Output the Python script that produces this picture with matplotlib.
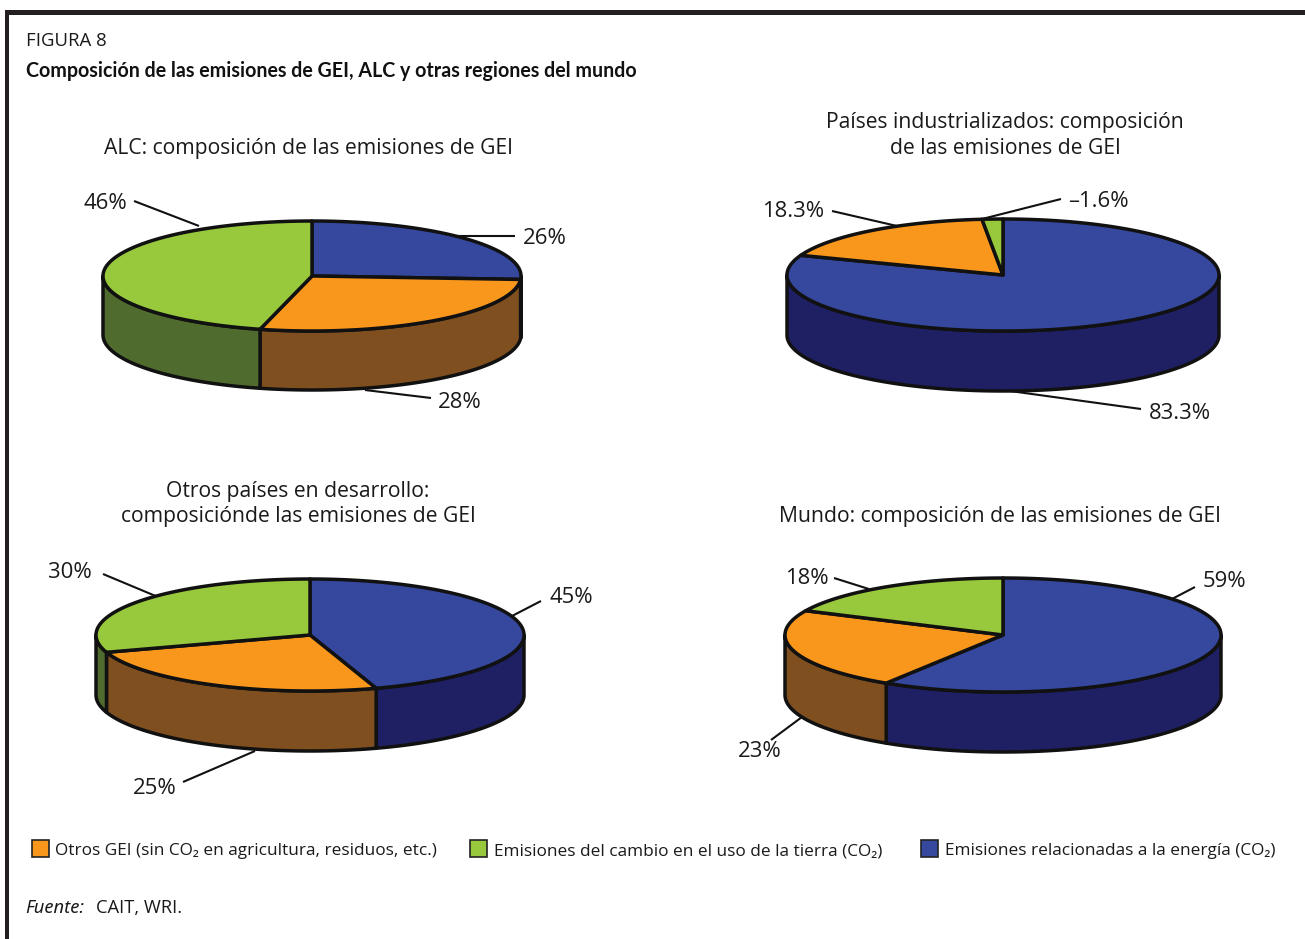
import numpy as np
import matplotlib
matplotlib.use("Agg")
import matplotlib.pyplot as plt
from matplotlib.patches import Polygon, Rectangle

plt.rcParams['font.family'] = ['Open Sans', 'Noto Sans', 'DejaVu Sans']

W, H = 1305, 939
FRAME = '#231f20'
INK = '#111111'

# Data (shares, clockwise from 12 o'clock); the industrialised slice uses the magnitude of -1.6
categories = ['Otros GEI (sin CO₂ en agricultura, residuos, etc.)',
              'Emisiones del cambio en el uso de la tierra (CO₂)',
              'Emisiones relacionadas a la energía (CO₂)']
order_keys = ['energia', 'otros', 'tierra']
alc_values = [26, 28, 46]
ind_values = [83.3, 18.3, 1.6]
dev_values = [45, 25, 30]
mun_values = [59, 23, 18]

top_colors = {'energia': '#36479e', 'otros': '#f9971d', 'tierra': '#98c93c'}
side_colors = {'energia': '#1f1f63', 'otros': '#7f4f1f', 'tierra': '#4f6b2e'}

fig = plt.figure(figsize=(W / 100, H / 100), dpi=100)
ax = fig.add_axes([0, 0, 1, 1])
ax.set_xlim(0, W)
ax.set_ylim(H, 0)
ax.axis('off')


def arc(cx, cy, rx, ry, a0, a1):
    t = np.radians(np.linspace(a0, a1, max(int(abs(a1 - a0) * 2), 2)))
    return np.column_stack([cx + rx * np.sin(t), cy - ry * np.cos(t)])


def pie3d(values, cx, cy, rx, ry, depth):
    vals = np.asarray(values, float)
    edges = np.concatenate([[0], np.cumsum(vals)]) / vals.sum() * 360
    for key, a0, a1 in zip(order_keys, edges[:-1], edges[1:]):
        lo, hi = max(a0, 90), min(a1, 270)
        if hi > lo:
            top = arc(cx, cy, rx, ry, lo, hi)
            bottom = top[::-1] + [0, depth]
            ax.add_patch(Polygon(np.vstack([top, bottom]), closed=True,
                                 facecolor=side_colors[key], edgecolor=INK,
                                 linewidth=2.5, joinstyle='round', zorder=2))
    for key, a0, a1 in zip(order_keys, edges[:-1], edges[1:]):
        pts = np.vstack([[cx, cy], arc(cx, cy, rx, ry, a0, a1)])
        ax.add_patch(Polygon(pts, closed=True, facecolor=top_colors[key],
                             edgecolor=INK, linewidth=2.5, joinstyle='round', zorder=3))


def leader(x0, y0, x1, y1):
    ax.plot([x0, x1], [y0, y1], color=INK, lw=1.5, zorder=1.5, solid_capstyle='butt')


def label(x, y, s, size=15.9, ha='center', **kw):
    ax.text(x, y + 1.5, s, fontsize=size, ha=ha, va='center', color='#1a1a1a', **kw)


# Frame
ax.add_patch(Rectangle((5, 10), W - 5, 4.5, color=FRAME, lw=0))
ax.add_patch(Rectangle((5, 10), 4, H - 10, color=FRAME, lw=0))

# Headers
label(26, 39.5, 'FIGURA 8', size=13.4, ha='left')
ax.text(26, 77, 'Composición de las emisiones de GEI, ALC y otras regiones del mundo',
        fontsize=14.1, fontweight='bold', ha='left', va='baseline', color='#111111',
        family=['Lato', 'Liberation Sans'])

# Panel titles
label(308, 147, 'ALC: composición de las emisiones de GEI', size=15.2)
label(1005, 121, 'Países industrializados: composición', size=15.2)
label(1005, 147, 'de las emisiones de GEI', size=15.2)
label(298, 490, 'Otros países en desarrollo:', size=15.2)
label(298, 515, 'composiciónde las emisiones de GEI', size=15.2)
label(1000, 515, 'Mundo: composición de las emisiones de GEI', size=15.2)

# Pies
pie3d(alc_values, 312, 276, 209, 55, 59)
pie3d(ind_values, 1003, 275, 216, 56, 60)
pie3d(dev_values, 310, 635, 214, 56, 60)
pie3d(mun_values, 1003, 635, 218, 57, 60)

# ALC labels
label(105, 202, '46%'); leader(134, 201, 199, 226)
label(545, 237, '26%'); leader(515, 236, 450, 236)
label(460, 401, '28%'); leader(431, 398, 365, 390)
# Industrialised labels
label(793, 210, '18.3%'); leader(832, 211, 897, 226)
label(1098, 200, '–1.6%'); leader(1061, 199, 982, 219)
label(1180, 412, '83.3%'); leader(1141, 409, 1010, 391)
# Developing labels
label(70, 571, '30%'); leader(103, 574, 158, 597)
label(571, 596, '45%'); leader(541, 601, 512, 616)
label(155, 787, '25%'); leader(183, 782, 255, 751)
# World labels
label(807, 577, '18%'); leader(834, 578, 872, 590)
label(1224, 580, '59%'); leader(1195, 587, 1172, 599)
label(760, 750, '23%'); leader(771, 740, 802, 717)

# Legend
swatch_x = [32, 470, 921]
text_x = [55, 494, 945]
swatch_keys = ['otros', 'tierra', 'energia']
for sx, tx, key, cat in zip(swatch_x, text_x, swatch_keys, categories):
    ax.add_patch(Rectangle((sx, 840), 17, 17, facecolor=top_colors[key],
                           edgecolor='#222222', linewidth=1.2))
    ax.text(tx, 855, cat, fontsize=12.45, ha='left', va='baseline', color='#1a1a1a')

# Source
ax.text(25, 913, 'Fuente:', fontsize=13.2, style='italic', ha='left', va='baseline',
        color='#1a1a1a', family=['Noto Sans', 'DejaVu Sans'])
ax.text(96, 913, 'CAIT, WRI.', fontsize=13.2, ha='left', va='baseline', color='#1a1a1a')

fig.savefig('out.png', dpi=100, facecolor='white')
